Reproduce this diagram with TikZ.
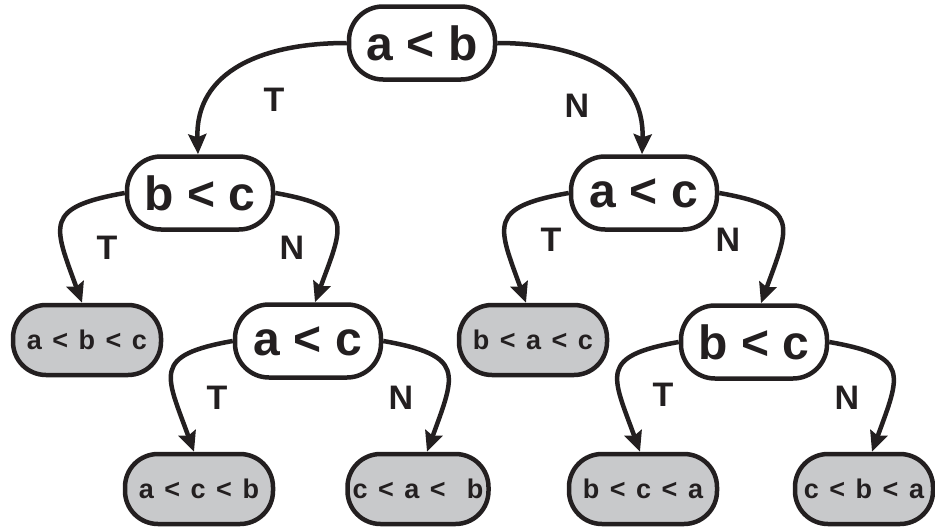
\documentclass[tikz,border=0pt]{standalone}
\usepackage{fontspec}
\setmainfont{Liberation Sans}
\newfontfamily\leaffont[WordSpace=1.4]{Liberation Sans}
\usetikzlibrary{arrows.meta}
\definecolor{ink}{HTML}{231F20}
\definecolor{leafgray}{HTML}{C8C9CB}
\tikzset{
  x=1pt, y=-1pt,
  test/.style={draw=ink, line width=4.5pt, rounded corners=34pt, fill=white,
    minimum width=146pt, minimum height=73pt, inner sep=0pt, text=ink,
    font=\fontsize{48}{48}\selectfont\bfseries},
  leaf/.style={draw=ink, line width=4.5pt, rounded corners=33pt, fill=leafgray,
    minimum width=148pt, minimum height=70pt, inner sep=0pt, text=ink,
    font=\leaffont\fontsize{27}{27}\selectfont\bfseries},
  lbl/.style={text=ink, inner sep=0pt, font=\fontsize{34}{34}\selectfont\bfseries},
  edge/.style={draw=ink, line width=4.5pt, -{Stealth[length=20pt,width=18pt,inset=3pt]}},
}
\begin{document}
\begin{tikzpicture}
\useasboundingbox (0,0) rectangle (935,530);
% nodes
\node[test] (root) at (422,43) {a < b};
\node[test] (L1) at (200,193) {b < c};
\node[test] (R1) at (644,193) {a < c};
\node[leaf] (abc) at (87,340) {a < b < c};
\node[test] (L2) at (308,341) {a < c};
\node[leaf] (bac) at (533,340) {b < a < c};
\node[test] (R2) at (754,342) {b < c};
\node[leaf] (acb) at (199,489) {a < c < b};
\node[leaf, minimum width=141pt] (cab) at (418,489) {c < a <\ \ b};
\node[leaf] (bca) at (643,489) {b < c < a};
\node[leaf, minimum width=138pt] (cba) at (864,489) {c < b < a};
% edges
\draw[edge] (root.west) to[out=180,in=92,looseness=1.15] ([xshift=-2pt]L1.north);
\draw[edge] (root.east) to[out=0,in=88,looseness=1.15] ([xshift=-2pt]R1.north);
\draw[edge] (L1.west) to[out=190,in=110,looseness=1.8] ([xshift=-5pt]abc.north);
\draw[edge] (L1.east) to[out=-10,in=70,looseness=1.8] ([xshift=7pt]L2.north);
\draw[edge] (R1.west) to[out=190,in=110,looseness=1.8] ([xshift=-7pt]bac.north);
\draw[edge] (R1.east) to[out=-10,in=70,looseness=1.8] ([xshift=7pt]R2.north);
\draw[edge] (L2.west) to[out=190,in=110,looseness=1.8] ([xshift=-5pt]acb.north);
\draw[edge] (L2.east) to[out=-10,in=70,looseness=1.8] ([xshift=9pt]cab.north);
\draw[edge] (R2.west) to[out=190,in=110,looseness=1.8] ([xshift=-3pt]bca.north);
\draw[edge] (R2.east) to[out=-10,in=70,looseness=1.8] ([xshift=8pt]cba.north);
% labels
\node[lbl] (t0) at (274,100) {T};
\node[lbl] (n0) at (577,106) {N};
\node[lbl] (t1) at (107,248) {T};
\node[lbl] (n1) at (292,248) {N};
\node[lbl] (t2) at (551,240) {T};
\node[lbl] (n2) at (728,240) {N};
\node[lbl] (t3) at (217,398) {T};
\node[lbl] (n3) at (401,398) {N};
\node[lbl] (t4) at (663,395) {T};
\node[lbl] (n4) at (847,398) {N};
\end{tikzpicture}
\end{document}
